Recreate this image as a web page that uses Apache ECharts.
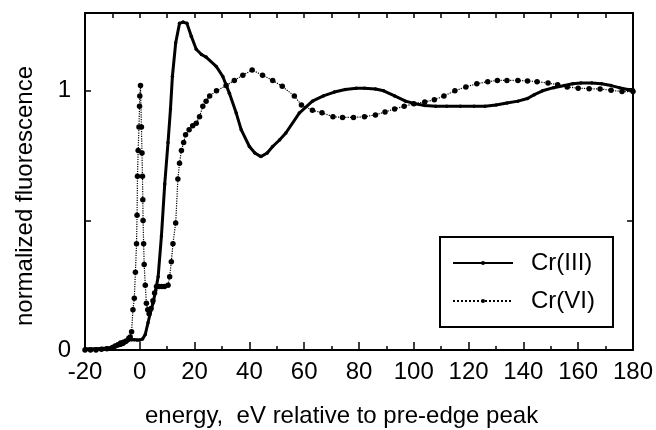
<!DOCTYPE html>
<html>
<head>
<meta charset="utf-8">
<script src="https://cdn.jsdelivr.net/npm/echarts@6/dist/echarts.min.js"></script>
<style>
html,body{margin:0;padding:0;background:#fff;}
#chart{width:656px;height:430px;}
</style>
</head>
<body>
<div id="chart"></div>
<script>
// ---- data ----
const seriesNames = ['Cr(III)', 'Cr(VI)'];
const xTickLabels = ['-20', '0', '20', '40', '60', '80', '100', '120', '140', '160', '180'];
const yTickLabels = ['0', '1'];
const xTitle = 'energy,  eV relative to pre-edge peak';
const yTitle = 'normalized fluorescence';

const cr3Energy = [-20,-16,-12,-9,-7,-6,-5,-4,-3,-2,-1,0,1,2,3,4,4.8,5.8,6.7,7.9,9.1,10.3,11.2,11.9,13.1,14.5,15.8,17.2,18.8,20.6,22.5,24.2,27.9,30.3,32.7,35.2,37,40,42,44.2,46.5,48.5,51,53.3,58.2,63,67,71,75,79,82,86,89,93,97,100.5,104,108,112,117,122,126,130,134,138,141.5,144,147,151,155,158,161,165,168.5,172,175,178,180];
const cr3Fluor  = [0.005,0.005,0.008,0.012,0.018,0.022,0.03,0.038,0.04,0.04,0.039,0.039,0.042,0.06,0.105,0.15,0.18,0.23,0.283,0.44,0.64,0.80,0.93,1.055,1.185,1.26,1.265,1.26,1.21,1.16,1.14,1.13,1.094,1.055,0.99,0.914,0.85,0.785,0.76,0.746,0.76,0.785,0.81,0.837,0.914,0.96,0.98,0.995,1.005,1.01,1.01,1.007,1.0,0.98,0.96,0.95,0.943,0.94,0.94,0.94,0.94,0.94,0.945,0.953,0.96,0.97,0.985,1.0,1.012,1.02,1.027,1.03,1.03,1.027,1.02,1.012,1.005,1.005];

const cr6Energy = [-20,-18,-16,-14,-12,-10,-9,-8,-7,-6,-5,-4,-3.5,-3,-2.5,-2,-1.6,-1.2,-1,-0.85,-0.6,-0.3,-0.1,0,0.25,0.6,0.8,0.97,1.1,1.2,1.4,1.6,2.0,2.4,2.9,3.4,4.1,4.8,5.4,6.1,7,8,9,10.3,10.9,11.5,12.1,13.1,13.9,14.5,15.2,16,16.7,18,19.3,20.6,21.8,23,24.2,25.5,28,31.5,34.5,37.6,41,44.8,48.5,52,56.4,59,63,66.5,70.5,74,78,82,86,89.5,93,96.5,100,104,107.5,111,115,119,123,127,130.5,134,138,141.5,145,149,152.5,156,160,164,168,172,176,180];
const cr6Fluor  = [0.0,0.0,0.0,0.003,0.005,0.01,0.015,0.02,0.027,0.03,0.035,0.045,0.05,0.07,0.155,0.2,0.3,0.41,0.52,0.67,0.77,0.86,0.94,0.98,1.02,0.86,0.76,0.67,0.58,0.50,0.41,0.33,0.25,0.18,0.155,0.14,0.16,0.19,0.22,0.245,0.245,0.245,0.245,0.25,0.283,0.34,0.41,0.49,0.66,0.72,0.77,0.80,0.83,0.85,0.865,0.875,0.9,0.94,0.96,0.98,1.0,1.02,1.04,1.06,1.08,1.06,1.04,1.017,0.98,0.945,0.925,0.915,0.90,0.897,0.897,0.90,0.907,0.918,0.93,0.94,0.95,0.957,0.965,0.98,1.0,1.015,1.027,1.035,1.04,1.04,1.04,1.038,1.035,1.03,1.023,1.015,1.01,1.008,1.007,1.002,0.997,0.997];

const cr3Data = cr3Energy.map((e, i) => [e, cr3Fluor[i]]);
const cr6Data = cr6Energy.map((e, i) => [e, cr6Fluor[i]]);

const FONT = '"Liberation Sans", Arial, Helvetica, sans-serif';
const chart = echarts.init(document.getElementById('chart'), null, {renderer: 'canvas'});

const option = {
  animation: false,
  backgroundColor: '#fff',
  grid: {left: 85, right: 21, top: 13, bottom: 80, containLabel: false},
  xAxis: [
    {
      type: 'value', min: -20, max: 180, interval: 20, position: 'bottom',
      axisLine: {show: true, onZero: false, lineStyle: {color: '#000', width: 2}},
      axisTick: {show: true, inside: true, length: 8, lineStyle: {color: '#000', width: 1.5}},
      minorTick: {show: true, splitNumber: 2, length: 4, lineStyle: {color: '#000', width: 1.5}},
      splitLine: {show: false},
      axisLabel: {
        show: true, margin: 10, color: '#000', fontSize: 24, fontFamily: FONT,
        formatter: v => xTickLabels.indexOf(String(v)) >= 0 ? String(v) : ''
      }
    },
    {
      type: 'value', min: -20, max: 180, interval: 10, position: 'top',
      axisLine: {show: true, onZero: false, lineStyle: {color: '#000', width: 2}},
      axisTick: {show: true, inside: true, length: 5, lineStyle: {color: '#000', width: 1.5}},
      axisLabel: {show: false}, splitLine: {show: false}
    }
  ],
  yAxis: [
    {
      type: 'value', min: 0, max: 1.3, interval: 0.5, position: 'left',
      axisLine: {show: true, onZero: false, lineStyle: {color: '#000', width: 2}},
      axisTick: {show: true, inside: true, length: 6, lineStyle: {color: '#000', width: 1.5}},
      splitLine: {show: false},
      axisLabel: {
        show: true, margin: 14, color: '#000', fontSize: 24, fontFamily: FONT,
        formatter: v => yTickLabels.indexOf(String(v)) >= 0 ? String(v) : ''
      }
    },
    {
      type: 'value', min: 0, max: 1.3, interval: 0.5, position: 'right',
      axisLine: {show: true, onZero: false, lineStyle: {color: '#000', width: 2}},
      axisTick: {show: true, inside: true, length: 6, lineStyle: {color: '#000', width: 1.5}},
      axisLabel: {show: false}, splitLine: {show: false}
    }
  ],
  legend: {
    show: true, orient: 'vertical', left: 440, top: 237,
    padding: [14, 18, 14, 12], itemGap: 14, itemWidth: 60, itemHeight: 5,
    backgroundColor: '#fff', borderColor: '#000', borderWidth: 2,
    textStyle: {color: '#000', fontSize: 24, fontFamily: FONT, padding: [0, 0, 0, 13]},
    data: seriesNames
  },
  graphic: [
    {type: 'text', left: 145, top: 404, style: {text: xTitle, font: '24px ' + FONT, fill: '#000'}},
    {type: 'text', x: 25, y: 196, rotation: Math.PI / 2,
     style: {text: yTitle, font: '24px ' + FONT, fill: '#000', align: 'center', verticalAlign: 'middle'}}
  ],
  series: [
    {
      name: seriesNames[0], type: 'line', data: cr3Data, xAxisIndex: 0, yAxisIndex: 0,
      symbol: 'circle', symbolSize: 3.5, showSymbol: true,
      lineStyle: {color: '#000', width: 3, type: 'solid'},
      itemStyle: {color: '#000'}, z: 3
    },
    {
      name: seriesNames[1], type: 'line', data: cr6Data, xAxisIndex: 0, yAxisIndex: 0,
      symbol: 'circle', symbolSize: 5.5, showSymbol: true,
      lineStyle: {color: '#000', width: 1.2, type: 'dotted'},
      itemStyle: {color: '#000'}, z: 2
    }
  ]
};
chart.setOption(option);
</script>
</body>
</html>
